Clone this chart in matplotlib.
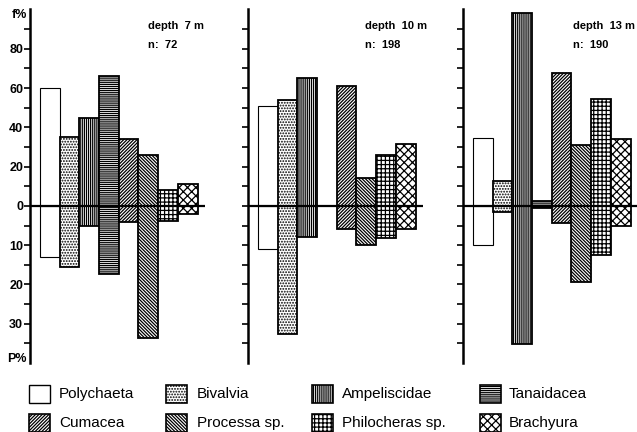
import matplotlib
matplotlib.use("Agg")
import matplotlib.pyplot as plt
from matplotlib.patches import Rectangle

plt.rcParams['font.family'] = ['Liberation Sans', 'DejaVu Sans']
plt.rcParams['hatch.linewidth'] = 0.9

taxa = ["Polychaeta", "Bivalvia", "Ampeliscidae", "Tanaidacea",
        "Cumacea", "Processa sp.", "Philocheras sp.", "Brachyura"]
hatches = ["", "......", "||||||||", "--------", "/" * 10, "\\" * 10, "++++", "xxxx"]

depths = ["depth  7 m", "depth  10 m", "depth  13 m"]
ns = ["n:  72", "n:  198", "n:  190"]

# frequency f% (upwards) and P% (downwards) per depth
f_7 = [60, 35, 45, 66, 34, 26, 8, 11]
p_7 = [13, 15.5, 5, 17.3, 4, 33.6, 3.8, 2]
f_10 = [51, 54, 65, 0, 61, 14, 26, 31.5]
p_10 = [10.9, 32.6, 7.8, 0, 5.9, 9.9, 8.2, 5.9]
f_13 = [34.6, 12.7, 98, 2.5, 67.8, 31, 54.5, 34]
p_13 = [9.9, 1.5, 35.1, 0.5, 4.3, 19.4, 12.4, 5.1]

f_all = [f_7, f_10, f_13]
p_all = [p_7, p_10, p_13]

up_ticks = [0, 20, 40, 60, 80]
down_ticks = [10, 20, 30]

W, H = 637, 432
fig = plt.figure(figsize=(W / 100, H / 100), dpi=100)

axis_x = [30, 248, 463]
text_x = [148, 365, 573]
ax_w = 175
y_top, y_bot = 9.5, 363

for k in range(3):
    ax = fig.add_axes([axis_x[k] / W, (H - y_bot) / H, ax_w / W, (y_bot - y_top) / H])
    ax.set_xlim(-0.5, 8.38)
    ax.set_ylim(-80, 100)
    for i, t in enumerate(taxa):
        lw = 0.8 if i == 0 else 1.3
        f = f_all[k][i]
        p = p_all[k][i]
        if f > 0:
            ax.bar(i + 0.5, f, width=1, bottom=0, color="white", edgecolor="black",
                   hatch=hatches[i], linewidth=lw)
        if p > 0:
            ax.bar(i + 0.5, -2 * p, width=1, bottom=0, color="white", edgecolor="black",
                   hatch=hatches[i], linewidth=lw)
    ax.axhline(0, color="black", linewidth=1.6)
    for s in ["top", "right", "bottom"]:
        ax.spines[s].set_visible(False)
    ax.spines["left"].set_linewidth(1.8)
    ax.set_xticks([])
    ticks = list(range(-70, 100, 10))
    ax.set_yticks(ticks)
    ax.tick_params(axis="y", direction="out", length=4, width=1.2, pad=1)
    if k == 0:
        labels = []
        for t in ticks:
            if t >= 0 and t in up_ticks:
                labels.append(str(t))
            elif t < 0 and (-t / 2) in down_ticks:
                labels.append(str(int(-t / 2)))
            else:
                labels.append("")
        ax.set_yticklabels(labels, fontsize=9, fontweight="bold")
        ax.text(-0.65, 97, "f%", ha="right", va="center", fontsize=9, fontweight="bold")
        ax.text(-0.65, -78, "P%", ha="right", va="center", fontsize=9, fontweight="bold")
    else:
        ax.set_yticklabels([])
    fig.text(text_x[k] / W, (H - 26) / H, depths[k], fontsize=8,
             fontweight="bold", ha="left", va="center")
    fig.text(text_x[k] / W, (H - 45) / H, ns[k], fontsize=8,
             fontweight="bold", ha="left", va="center")

# legend
col_patch_x = [29, 166, 312, 480]
col_text_x = [59, 197, 342, 509]
row_y = [394, 423]
pw, ph = 21, 18
for idx, t in enumerate(taxa):
    r, c = divmod(idx, 4)
    x0 = col_patch_x[c] / W
    y0 = (H - row_y[r] - ph / 2) / H
    rect = Rectangle((x0, y0), pw / W, ph / H, transform=fig.transFigure,
                     facecolor="white", edgecolor="black", hatch=hatches[idx],
                     linewidth=1.0 if idx == 0 else 1.2)
    fig.add_artist(rect)
    fig.text(col_text_x[c] / W, (H - row_y[r]) / H, t, fontsize=11,
             ha="left", va="center")

fig.savefig("out.png", dpi=100)
